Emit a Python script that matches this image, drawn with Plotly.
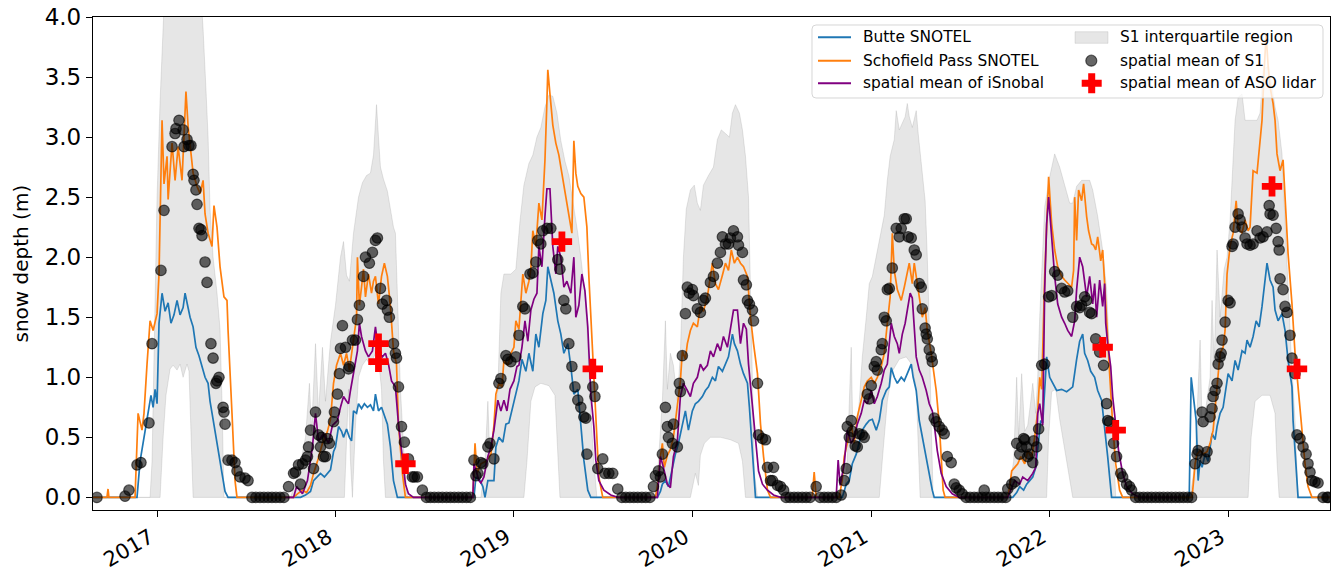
import numpy as np
import pandas as pd
import plotly.graph_objects as go

# ---------------------------------------------------------------------------
# Snow depth time series, (decimal year, depth in m)
# ---------------------------------------------------------------------------
butte_snotel = [
    (2016.642, 0.00), (2016.888, 0.00), (2016.905, 0.30), (2016.927, 0.50), (2016.944, 0.62),
    (2016.966, 0.85), (2016.978, 0.75), (2016.989, 0.90), (2017.000, 0.78), (2017.011, 1.45),
    (2017.028, 1.70), (2017.045, 1.55), (2017.062, 1.62), (2017.078, 1.45), (2017.095, 1.52),
    (2017.112, 1.64), (2017.129, 1.52), (2017.146, 1.58), (2017.157, 1.70), (2017.174, 1.58),
    (2017.185, 1.50), (2017.202, 1.42), (2017.218, 1.25), (2017.235, 1.18), (2017.252, 1.08),
    (2017.269, 1.00), (2017.286, 0.95), (2017.297, 0.80), (2017.314, 0.65), (2017.330, 0.50),
    (2017.347, 0.33), (2017.364, 0.18), (2017.381, 0.05), (2017.398, 0.00),
    (2017.804, 0.00), (2017.832, 0.02), (2017.860, 0.05), (2017.877, 0.14), (2017.894, 0.17),
    (2017.916, 0.20), (2017.938, 0.17), (2017.955, 0.20), (2017.972, 0.23), (2017.989, 0.38),
    (2018.000, 0.42), (2018.017, 0.59), (2018.034, 0.55), (2018.045, 0.50), (2018.062, 0.57),
    (2018.078, 0.50), (2018.090, 0.47), (2018.101, 0.72), (2018.118, 0.70), (2018.129, 0.78),
    (2018.146, 0.74), (2018.162, 0.78), (2018.179, 0.75), (2018.196, 0.77), (2018.213, 0.72),
    (2018.224, 0.86), (2018.241, 0.72), (2018.258, 0.75), (2018.274, 0.68), (2018.291, 0.61),
    (2018.308, 0.42), (2018.325, 0.14), (2018.347, 0.00),
    (2018.776, 0.00), (2018.787, 0.17), (2018.810, 0.14), (2018.826, 0.09), (2018.838, 0.00),
    (2018.854, 0.14), (2018.888, 0.14), (2018.899, 0.42), (2018.916, 0.50), (2018.938, 0.46),
    (2018.955, 0.61), (2018.972, 0.62), (2018.994, 0.75), (2019.011, 0.85), (2019.028, 0.97),
    (2019.045, 1.15), (2019.067, 1.05), (2019.084, 1.20), (2019.106, 1.05), (2019.123, 1.36),
    (2019.140, 1.25), (2019.162, 1.53), (2019.179, 1.64), (2019.190, 1.92), (2019.207, 1.81),
    (2019.224, 1.70), (2019.246, 1.47), (2019.263, 1.36), (2019.280, 1.20), (2019.302, 1.28),
    (2019.319, 1.09), (2019.336, 0.86), (2019.358, 0.90), (2019.375, 0.59), (2019.392, 0.31),
    (2019.414, 0.06), (2019.431, 0.00),
    (2019.804, 0.00), (2019.821, 0.05), (2019.832, 0.11), (2019.849, 0.14), (2019.866, 0.09),
    (2019.888, 0.25), (2019.905, 0.36), (2019.922, 0.45), (2019.944, 0.61), (2019.961, 0.72),
    (2019.978, 0.56), (2020.000, 0.72), (2020.017, 0.78), (2020.034, 0.80), (2020.056, 0.84),
    (2020.073, 0.89), (2020.090, 0.92), (2020.112, 1.00), (2020.129, 0.97), (2020.146, 1.09),
    (2020.168, 1.05), (2020.185, 1.11), (2020.202, 1.17), (2020.224, 1.36), (2020.235, 1.28),
    (2020.252, 1.22), (2020.269, 1.11), (2020.286, 1.03), (2020.308, 0.95), (2020.319, 0.75),
    (2020.336, 0.34), (2020.353, 0.00),
    (2020.838, 0.00), (2020.860, 0.11), (2020.877, 0.14), (2020.894, 0.28), (2020.916, 0.36),
    (2020.933, 0.45), (2020.950, 0.56), (2020.972, 0.61), (2020.989, 0.64), (2021.006, 0.65),
    (2021.028, 0.56), (2021.045, 0.64), (2021.062, 0.81), (2021.084, 0.89), (2021.101, 0.92),
    (2021.112, 1.08), (2021.129, 1.00), (2021.146, 0.95), (2021.168, 1.00), (2021.185, 0.97),
    (2021.202, 1.03), (2021.224, 1.11), (2021.235, 1.00), (2021.252, 0.89), (2021.269, 0.64),
    (2021.286, 0.50), (2021.308, 0.34), (2021.325, 0.17), (2021.342, 0.06), (2021.353, 0.00),
    (2021.793, 0.00), (2021.815, 0.04), (2021.832, 0.09), (2021.854, 0.06), (2021.871, 0.11),
    (2021.888, 0.14), (2021.905, 0.17), (2021.922, 0.25), (2021.938, 0.47), (2021.950, 0.64),
    (2021.961, 0.62), (2021.972, 0.95), (2021.983, 1.17), (2022.000, 1.00), (2022.017, 0.95),
    (2022.039, 0.89), (2022.067, 0.90), (2022.095, 0.88), (2022.112, 0.90), (2022.129, 0.92),
    (2022.151, 1.15), (2022.168, 1.30), (2022.185, 1.36), (2022.196, 1.20), (2022.213, 1.14),
    (2022.230, 1.05), (2022.252, 1.00), (2022.269, 0.89), (2022.291, 0.81), (2022.308, 0.60),
    (2022.325, 0.34), (2022.347, 0.00),
    (2022.782, 0.00), (2022.793, 1.00), (2022.804, 0.84), (2022.821, 0.64), (2022.832, 0.14),
    (2022.843, 0.31), (2022.854, 0.25), (2022.871, 0.36), (2022.888, 0.30), (2022.910, 0.53),
    (2022.927, 0.48), (2022.938, 0.59), (2022.955, 0.70), (2022.972, 0.75), (2022.989, 0.92),
    (2023.000, 1.03), (2023.022, 0.97), (2023.039, 1.14), (2023.056, 1.06), (2023.078, 1.22),
    (2023.095, 1.20), (2023.106, 1.31), (2023.123, 1.25), (2023.140, 1.34), (2023.157, 1.47),
    (2023.174, 1.42), (2023.190, 1.59), (2023.207, 1.81), (2023.218, 1.95), (2023.235, 1.81),
    (2023.252, 1.75), (2023.263, 1.56), (2023.280, 1.47), (2023.302, 1.53), (2023.319, 1.39),
    (2023.336, 1.14), (2023.358, 0.92), (2023.364, 0.64), (2023.375, 0.36), (2023.386, 0.09),
    (2023.392, 0.00), (2023.571, 0.00),
]

schofield_snotel = [
    (2016.642, 0.00), (2016.720, 0.00), (2016.726, 0.07), (2016.731, 0.00), (2016.877, 0.00),
    (2016.894, 0.70), (2016.916, 0.56), (2016.927, 0.70), (2016.944, 1.11), (2016.961, 1.47),
    (2016.978, 1.39), (2017.000, 1.53), (2017.011, 1.86), (2017.028, 3.14), (2017.039, 2.61),
    (2017.056, 2.84), (2017.062, 2.48), (2017.084, 2.95), (2017.101, 2.64), (2017.118, 2.92),
    (2017.140, 2.64), (2017.151, 3.03), (2017.162, 3.38), (2017.174, 3.09), (2017.190, 2.89),
    (2017.202, 2.70), (2017.224, 2.59), (2017.241, 2.53), (2017.258, 2.64), (2017.269, 2.36),
    (2017.286, 2.20), (2017.308, 2.09), (2017.319, 2.43), (2017.336, 2.25), (2017.353, 1.92),
    (2017.375, 1.67), (2017.392, 1.64), (2017.398, 1.39), (2017.420, 0.70), (2017.437, 0.14),
    (2017.448, 0.00),
    (2017.765, 0.00), (2017.787, 0.03), (2017.815, 0.06), (2017.838, 0.04), (2017.860, 0.10),
    (2017.877, 0.20), (2017.899, 0.30), (2017.927, 0.45), (2017.955, 0.55), (2017.972, 0.65),
    (2017.989, 0.95), (2018.006, 1.10), (2018.028, 1.20), (2018.045, 1.10), (2018.062, 1.20),
    (2018.078, 1.06), (2018.101, 1.30), (2018.118, 1.50), (2018.123, 2.00), (2018.134, 1.60),
    (2018.146, 1.75), (2018.157, 1.90), (2018.168, 1.67), (2018.185, 1.86), (2018.202, 1.70),
    (2018.213, 1.80), (2018.224, 1.84), (2018.241, 1.61), (2018.258, 1.84), (2018.274, 1.95),
    (2018.291, 1.84), (2018.308, 1.59), (2018.325, 1.22), (2018.342, 1.11), (2018.353, 0.61),
    (2018.375, 0.20), (2018.392, 0.00),
    (2018.770, 0.00), (2018.782, 0.45), (2018.793, 0.20), (2018.815, 0.28), (2018.843, 0.30),
    (2018.871, 0.36), (2018.888, 0.60), (2018.899, 0.86), (2018.916, 0.95), (2018.933, 0.92),
    (2018.944, 1.14), (2018.966, 1.10), (2018.983, 1.20), (2019.000, 1.25), (2019.011, 1.47),
    (2019.028, 1.40), (2019.039, 1.60), (2019.050, 1.86), (2019.067, 1.70), (2019.084, 1.80),
    (2019.095, 1.90), (2019.106, 2.22), (2019.123, 2.09), (2019.140, 2.45), (2019.157, 2.31),
    (2019.174, 2.81), (2019.185, 3.30), (2019.190, 3.56), (2019.202, 3.36), (2019.218, 3.10),
    (2019.235, 2.95), (2019.252, 2.85), (2019.263, 2.75), (2019.280, 2.60), (2019.297, 2.45),
    (2019.308, 2.36), (2019.325, 2.20), (2019.336, 2.97), (2019.347, 2.70), (2019.358, 2.59),
    (2019.375, 2.53), (2019.392, 2.50), (2019.409, 2.25), (2019.420, 1.84), (2019.442, 1.14),
    (2019.459, 0.59), (2019.476, 0.17), (2019.498, 0.00),
    (2019.793, 0.00), (2019.810, 0.14), (2019.821, 0.34), (2019.832, 0.45), (2019.843, 0.25),
    (2019.860, 0.35), (2019.877, 0.40), (2019.894, 0.50), (2019.916, 0.75), (2019.933, 0.97),
    (2019.944, 1.22), (2019.961, 1.15), (2019.972, 1.28), (2019.989, 1.39), (2020.006, 1.45),
    (2020.028, 1.42), (2020.045, 1.59), (2020.062, 1.55), (2020.084, 1.67), (2020.101, 1.84),
    (2020.112, 1.95), (2020.129, 1.78), (2020.146, 1.73), (2020.168, 1.85), (2020.185, 1.95),
    (2020.202, 1.89), (2020.218, 2.06), (2020.235, 1.95), (2020.252, 2.00), (2020.269, 1.95),
    (2020.286, 1.92), (2020.308, 1.84), (2020.325, 1.50), (2020.342, 1.28), (2020.364, 1.03),
    (2020.381, 0.61), (2020.398, 0.34), (2020.420, 0.06), (2020.437, 0.00),
    (2020.670, 0.00), (2020.681, 0.21), (2020.692, 0.00),
    (2020.821, 0.00), (2020.838, 0.15), (2020.849, 0.34), (2020.866, 0.45), (2020.888, 0.61),
    (2020.905, 0.45), (2020.922, 0.67), (2020.944, 0.81), (2020.961, 0.92), (2020.978, 0.97),
    (2021.000, 1.00), (2021.017, 0.95), (2021.034, 1.00), (2021.056, 1.09), (2021.073, 1.20),
    (2021.090, 1.45), (2021.106, 1.67), (2021.118, 2.20), (2021.129, 1.89), (2021.146, 1.73),
    (2021.168, 1.64), (2021.185, 1.75), (2021.196, 1.84), (2021.213, 1.95), (2021.230, 1.78),
    (2021.241, 1.95), (2021.252, 1.84), (2021.269, 1.67), (2021.286, 1.50), (2021.302, 1.58),
    (2021.314, 1.39), (2021.336, 1.20), (2021.353, 1.03), (2021.364, 0.89), (2021.381, 0.61),
    (2021.392, 0.34), (2021.403, 0.06), (2021.414, 0.00),
    (2021.765, 0.00), (2021.776, 0.09), (2021.787, 0.22), (2021.804, 0.25), (2021.821, 0.28),
    (2021.838, 0.34), (2021.860, 0.28), (2021.877, 0.39), (2021.899, 0.33), (2021.916, 0.50),
    (2021.933, 0.72), (2021.944, 1.00), (2021.955, 0.90), (2021.972, 1.84), (2021.983, 2.28),
    (2021.994, 2.67), (2022.011, 2.28), (2022.028, 2.06), (2022.045, 1.92), (2022.067, 1.84),
    (2022.084, 1.81), (2022.101, 1.78), (2022.123, 1.75), (2022.134, 1.89), (2022.140, 2.50),
    (2022.151, 2.14), (2022.162, 2.56), (2022.179, 2.47), (2022.190, 2.61), (2022.207, 2.34),
    (2022.218, 2.22), (2022.235, 2.11), (2022.246, 2.10), (2022.258, 2.06), (2022.269, 2.17),
    (2022.286, 1.97), (2022.297, 2.06), (2022.308, 1.78), (2022.319, 1.45), (2022.336, 1.03),
    (2022.353, 0.61), (2022.370, 0.28), (2022.392, 0.06), (2022.409, 0.00),
    (2022.798, 0.00), (2022.804, 0.09), (2022.815, 0.28), (2022.826, 0.36), (2022.843, 0.39),
    (2022.860, 0.36), (2022.882, 0.38), (2022.899, 0.45), (2022.916, 0.56), (2022.938, 0.92),
    (2022.955, 1.20), (2022.972, 1.25), (2022.983, 1.39), (2022.994, 1.86), (2023.011, 2.09),
    (2023.028, 2.20), (2023.045, 2.47), (2023.056, 2.25), (2023.078, 2.20), (2023.095, 2.31),
    (2023.112, 2.22), (2023.123, 2.25), (2023.140, 2.72), (2023.162, 2.70), (2023.174, 2.92),
    (2023.190, 3.14), (2023.202, 3.56), (2023.213, 3.85), (2023.224, 3.60), (2023.235, 3.42),
    (2023.252, 3.28), (2023.263, 3.14), (2023.274, 2.86), (2023.291, 2.72), (2023.308, 2.81),
    (2023.319, 2.45), (2023.336, 2.03), (2023.358, 1.61), (2023.375, 1.20), (2023.392, 0.92),
    (2023.414, 0.59), (2023.431, 0.28), (2023.448, 0.09), (2023.470, 0.00), (2023.571, 0.00),
]

isnobal_mean = [
    (2017.720, 0.00), (2017.765, 0.00), (2017.782, 0.09), (2017.815, 0.03), (2017.843, 0.14),
    (2017.860, 0.30), (2017.871, 0.42), (2017.888, 0.70), (2017.905, 0.47), (2017.933, 0.53),
    (2017.961, 0.45), (2017.983, 0.60), (2018.011, 0.64), (2018.028, 0.75), (2018.045, 0.84),
    (2018.062, 0.80), (2018.073, 0.78), (2018.084, 0.89), (2018.101, 1.03), (2018.123, 1.22),
    (2018.134, 1.45), (2018.146, 1.34), (2018.168, 1.22), (2018.185, 1.17), (2018.207, 1.22),
    (2018.224, 1.42), (2018.241, 1.22), (2018.263, 1.17), (2018.280, 1.20), (2018.297, 1.11),
    (2018.314, 0.97), (2018.336, 0.92), (2018.353, 0.61), (2018.375, 0.34), (2018.392, 0.11),
    (2018.409, 0.03), (2018.437, 0.00),
    (2018.770, 0.00), (2018.776, 0.28), (2018.804, 0.14), (2018.815, 0.12), (2018.832, 0.17),
    (2018.854, 0.34), (2018.871, 0.42), (2018.888, 0.56), (2018.910, 0.81), (2018.927, 0.72),
    (2018.944, 0.81), (2018.961, 0.72), (2018.978, 0.90), (2019.000, 0.97), (2019.017, 1.09),
    (2019.028, 1.10), (2019.045, 1.25), (2019.062, 1.47), (2019.078, 1.30), (2019.095, 1.56),
    (2019.112, 1.65), (2019.129, 1.70), (2019.140, 2.09), (2019.157, 1.92), (2019.174, 2.34),
    (2019.185, 2.57), (2019.202, 2.57), (2019.218, 2.09), (2019.235, 1.86), (2019.246, 2.09),
    (2019.263, 2.00), (2019.280, 1.75), (2019.297, 1.80), (2019.319, 1.70), (2019.336, 2.00),
    (2019.347, 1.50), (2019.364, 1.60), (2019.381, 1.86), (2019.398, 1.72), (2019.414, 1.42),
    (2019.431, 0.86), (2019.448, 0.59), (2019.459, 0.31), (2019.476, 0.14), (2019.504, 0.06),
    (2019.543, 0.02), (2019.582, 0.00),
    (2019.804, 0.00), (2019.821, 0.34), (2019.838, 0.25), (2019.860, 0.11), (2019.877, 0.08),
    (2019.894, 0.34), (2019.916, 0.47), (2019.933, 0.84), (2019.950, 0.95), (2019.972, 0.89),
    (2019.989, 0.84), (2020.006, 0.95), (2020.028, 1.00), (2020.045, 1.11), (2020.062, 1.06),
    (2020.084, 1.10), (2020.101, 1.22), (2020.118, 1.17), (2020.140, 1.28), (2020.157, 1.22),
    (2020.174, 1.34), (2020.196, 1.25), (2020.213, 1.39), (2020.230, 1.56), (2020.252, 1.56),
    (2020.269, 1.28), (2020.286, 1.45), (2020.302, 1.40), (2020.314, 1.11), (2020.336, 0.75),
    (2020.353, 0.45), (2020.370, 0.22), (2020.392, 0.11), (2020.420, 0.06), (2020.454, 0.02),
    (2020.493, 0.00),
    (2020.804, 0.00), (2020.815, 0.31), (2020.826, 0.10), (2020.849, 0.28), (2020.866, 0.56),
    (2020.888, 0.45), (2020.905, 0.50), (2020.922, 0.61), (2020.944, 0.70), (2020.961, 0.81),
    (2020.978, 0.78), (2021.000, 0.89), (2021.017, 0.78), (2021.034, 0.84), (2021.056, 0.95),
    (2021.073, 1.06), (2021.090, 1.11), (2021.112, 1.45), (2021.129, 1.34), (2021.146, 1.28),
    (2021.157, 1.20), (2021.174, 1.36), (2021.190, 1.45), (2021.202, 1.56), (2021.218, 1.70),
    (2021.230, 1.66), (2021.241, 1.45), (2021.252, 1.17), (2021.269, 1.06), (2021.286, 1.00),
    (2021.308, 0.89), (2021.325, 0.78), (2021.342, 0.72), (2021.353, 0.61), (2021.370, 0.39),
    (2021.392, 0.20), (2021.420, 0.09), (2021.454, 0.03), (2021.493, 0.00),
    (2021.765, 0.00), (2021.787, 0.08), (2021.804, 0.14), (2021.832, 0.11), (2021.849, 0.17),
    (2021.877, 0.14), (2021.905, 0.20), (2021.922, 0.25), (2021.933, 0.70), (2021.944, 0.78),
    (2021.961, 0.60), (2021.972, 1.73), (2021.983, 2.28), (2021.994, 2.50), (2022.011, 2.14),
    (2022.028, 1.84), (2022.045, 1.61), (2022.067, 1.50), (2022.084, 1.45), (2022.101, 1.39),
    (2022.123, 1.34), (2022.140, 1.47), (2022.151, 1.73), (2022.168, 2.00), (2022.185, 1.92),
    (2022.196, 1.81), (2022.207, 1.67), (2022.224, 1.84), (2022.241, 1.61), (2022.252, 1.78),
    (2022.263, 1.50), (2022.280, 1.81), (2022.297, 1.59), (2022.308, 1.78), (2022.314, 1.45),
    (2022.325, 1.28), (2022.342, 1.09), (2022.353, 0.84), (2022.370, 0.61), (2022.386, 0.39),
    (2022.409, 0.20), (2022.431, 0.09), (2022.465, 0.03), (2022.504, 0.00), (2022.728, 0.00),
]

s1_mean = [
    (2016.664, 0.00), (2016.821, 0.01), (2016.843, 0.06), (2016.888, 0.27), (2016.910, 0.29),
    (2016.955, 0.62), (2016.972, 1.28), (2017.022, 1.89), (2017.039, 2.39), (2017.084, 2.92),
    (2017.101, 3.03), (2017.106, 3.07), (2017.123, 3.14), (2017.146, 3.06), (2017.151, 2.92),
    (2017.168, 2.98), (2017.179, 2.93), (2017.190, 2.93), (2017.202, 2.69), (2017.207, 2.64),
    (2017.218, 2.56), (2017.224, 2.44), (2017.235, 2.24), (2017.246, 2.23), (2017.252, 2.18),
    (2017.269, 1.96), (2017.280, 1.79), (2017.302, 1.28), (2017.314, 1.16), (2017.330, 0.95),
    (2017.336, 0.97), (2017.347, 1.00), (2017.370, 0.75), (2017.375, 0.71), (2017.381, 0.61),
    (2017.398, 0.31), (2017.420, 0.31), (2017.437, 0.29), (2017.448, 0.22), (2017.465, 0.17),
    (2017.493, 0.16), (2017.510, 0.14), (2017.532, 0.00), (2017.554, 0.00), (2017.577, 0.00),
    (2017.599, 0.00), (2017.622, 0.00), (2017.644, 0.00), (2017.666, 0.00), (2017.689, 0.00),
    (2017.711, 0.00),
    (2017.737, 0.09), (2017.765, 0.20), (2017.776, 0.21), (2017.793, 0.27), (2017.804, 0.11),
    (2017.815, 0.28), (2017.832, 0.31), (2017.843, 0.34), (2017.849, 0.42), (2017.860, 0.56),
    (2017.877, 0.24), (2017.888, 0.71), (2017.905, 0.52), (2017.916, 0.42), (2017.922, 0.50),
    (2017.933, 0.34), (2017.944, 0.34), (2017.955, 0.49), (2017.966, 0.45), (2017.989, 0.63),
    (2017.994, 0.71), (2018.011, 0.86), (2018.022, 1.03), (2018.028, 1.24), (2018.039, 1.43),
    (2018.056, 1.25), (2018.073, 1.07), (2018.078, 1.09), (2018.095, 1.31), (2018.112, 1.31),
    (2018.123, 1.48), (2018.134, 1.60), (2018.157, 1.84), (2018.168, 2.00), (2018.190, 1.95),
    (2018.207, 2.04), (2018.224, 2.14), (2018.235, 2.16), (2018.252, 1.74), (2018.263, 1.61),
    (2018.286, 1.64), (2018.291, 1.56), (2018.302, 1.50), (2018.325, 1.28), (2018.336, 1.20),
    (2018.342, 1.16), (2018.353, 0.92), (2018.370, 0.59), (2018.386, 0.46), (2018.409, 0.32),
    (2018.431, 0.17), (2018.442, 0.17), (2018.459, 0.17), (2018.487, 0.06), (2018.510, 0.00),
    (2018.532, 0.00), (2018.554, 0.00), (2018.577, 0.00), (2018.599, 0.00), (2018.622, 0.00),
    (2018.644, 0.00), (2018.666, 0.00), (2018.689, 0.00), (2018.711, 0.00), (2018.734, 0.00),
    (2018.756, 0.00),
    (2018.776, 0.31), (2018.787, 0.18), (2018.798, 0.20), (2018.815, 0.29), (2018.826, 0.28),
    (2018.854, 0.42), (2018.866, 0.45), (2018.888, 0.32), (2018.916, 0.95), (2018.927, 0.99),
    (2018.955, 1.18), (2018.966, 1.15), (2018.983, 1.13), (2019.011, 1.17), (2019.028, 1.35),
    (2019.050, 1.59), (2019.062, 1.57), (2019.090, 1.86), (2019.106, 1.87), (2019.123, 1.96),
    (2019.134, 2.14), (2019.151, 2.11), (2019.162, 2.22), (2019.185, 2.24), (2019.207, 2.24),
    (2019.246, 1.98), (2019.258, 1.90), (2019.280, 1.64), (2019.291, 1.57), (2019.308, 1.28),
    (2019.325, 1.09), (2019.342, 0.92), (2019.358, 0.81), (2019.375, 0.75), (2019.392, 0.67),
    (2019.403, 0.66), (2019.409, 0.36), (2019.442, 0.92), (2019.454, 0.84), (2019.470, 0.24),
    (2019.498, 0.32), (2019.510, 0.20), (2019.532, 0.20), (2019.554, 0.20), (2019.582, 0.07),
    (2019.605, 0.00), (2019.627, 0.00), (2019.650, 0.00), (2019.672, 0.00), (2019.694, 0.00),
    (2019.717, 0.00), (2019.739, 0.00), (2019.762, 0.00),
    (2019.782, 0.09), (2019.793, 0.18), (2019.810, 0.22), (2019.821, 0.17), (2019.832, 0.36),
    (2019.849, 0.75), (2019.860, 0.59), (2019.866, 0.50), (2019.888, 0.45), (2019.894, 0.61),
    (2019.916, 0.42), (2019.927, 0.95), (2019.933, 0.88), (2019.944, 1.18), (2019.961, 1.53),
    (2019.972, 1.75), (2019.983, 1.70), (2020.000, 1.73), (2020.006, 1.68), (2020.028, 1.57),
    (2020.045, 1.54), (2020.062, 1.64), (2020.073, 1.66), (2020.101, 1.79), (2020.118, 1.84),
    (2020.140, 1.95), (2020.157, 2.04), (2020.168, 2.17), (2020.185, 2.11), (2020.202, 2.11),
    (2020.213, 2.16), (2020.230, 2.22), (2020.252, 2.17), (2020.258, 2.10), (2020.280, 2.04),
    (2020.286, 1.81), (2020.302, 1.77), (2020.308, 1.64), (2020.319, 1.61), (2020.336, 1.56),
    (2020.342, 1.47), (2020.364, 0.95), (2020.370, 0.52), (2020.392, 0.49), (2020.409, 0.48),
    (2020.420, 0.25), (2020.437, 0.14), (2020.448, 0.14), (2020.454, 0.25), (2020.476, 0.10),
    (2020.493, 0.09), (2020.510, 0.06), (2020.524, 0.00), (2020.546, 0.00), (2020.569, 0.00),
    (2020.591, 0.00), (2020.614, 0.00), (2020.636, 0.00), (2020.658, 0.00), (2020.692, 0.09),
    (2020.714, 0.00), (2020.737, 0.00), (2020.759, 0.00), (2020.782, 0.00), (2020.804, 0.00),
    (2020.832, 0.02), (2020.849, 0.14), (2020.860, 0.24), (2020.866, 0.59), (2020.877, 0.50),
    (2020.888, 0.64), (2020.894, 0.55), (2020.910, 0.43), (2020.922, 0.42), (2020.933, 0.53),
    (2020.950, 0.52), (2020.961, 0.50), (2020.978, 0.86), (2020.989, 0.82), (2021.000, 0.93),
    (2021.017, 1.09), (2021.028, 1.13), (2021.034, 1.06), (2021.056, 1.23), (2021.062, 1.28),
    (2021.073, 1.50), (2021.084, 1.47), (2021.090, 1.73), (2021.101, 1.74), (2021.118, 1.91),
    (2021.140, 2.24), (2021.157, 2.17), (2021.168, 2.24), (2021.185, 2.32), (2021.196, 2.32),
    (2021.207, 2.17), (2021.224, 2.16), (2021.241, 2.06), (2021.252, 2.02), (2021.269, 1.78),
    (2021.280, 1.75), (2021.286, 1.57), (2021.302, 1.41), (2021.308, 1.36), (2021.314, 1.32),
    (2021.325, 1.23), (2021.336, 1.17), (2021.342, 1.13), (2021.353, 0.66), (2021.364, 0.63),
    (2021.381, 0.59), (2021.398, 0.56), (2021.409, 0.53), (2021.426, 0.34), (2021.448, 0.29),
    (2021.465, 0.11), (2021.476, 0.08), (2021.493, 0.06), (2021.510, 0.03), (2021.532, 0.00),
    (2021.554, 0.00), (2021.577, 0.00), (2021.599, 0.00), (2021.622, 0.00), (2021.633, 0.06),
    (2021.644, 0.00), (2021.666, 0.00), (2021.689, 0.00), (2021.711, 0.00), (2021.734, 0.00),
    (2021.754, 0.00),
    (2021.765, 0.07), (2021.787, 0.11), (2021.804, 0.13), (2021.815, 0.45), (2021.832, 0.36),
    (2021.843, 0.42), (2021.854, 0.49), (2021.860, 0.48), (2021.871, 0.42), (2021.877, 0.34),
    (2021.888, 0.36), (2021.905, 0.29), (2021.910, 0.47), (2021.927, 0.42), (2021.938, 0.57),
    (2021.955, 1.10), (2021.972, 1.11), (2021.994, 1.67), (2022.011, 1.68), (2022.028, 1.88),
    (2022.045, 1.85), (2022.067, 1.74), (2022.084, 1.71), (2022.101, 1.72), (2022.129, 1.50),
    (2022.151, 1.59), (2022.168, 1.58), (2022.179, 1.60), (2022.196, 1.67), (2022.207, 1.64),
    (2022.224, 1.54), (2022.235, 1.53), (2022.258, 1.32), (2022.280, 1.21), (2022.302, 1.10),
    (2022.319, 0.78), (2022.325, 0.64), (2022.336, 0.63), (2022.358, 0.45), (2022.375, 0.34),
    (2022.398, 0.20), (2022.409, 0.17), (2022.431, 0.11), (2022.448, 0.09), (2022.459, 0.06),
    (2022.482, 0.00), (2022.504, 0.00), (2022.526, 0.00), (2022.549, 0.00), (2022.571, 0.00),
    (2022.594, 0.00), (2022.616, 0.00), (2022.638, 0.00), (2022.661, 0.00), (2022.683, 0.00),
    (2022.706, 0.00), (2022.728, 0.00), (2022.750, 0.00), (2022.773, 0.00), (2022.795, 0.00),
    (2022.815, 0.28), (2022.826, 0.36), (2022.832, 0.39), (2022.854, 0.71), (2022.860, 0.63),
    (2022.871, 0.32), (2022.882, 0.38), (2022.899, 0.67), (2022.910, 0.74), (2022.916, 0.84),
    (2022.927, 0.89), (2022.938, 0.95), (2022.944, 1.11), (2022.955, 1.17), (2022.961, 1.20),
    (2022.966, 1.31), (2022.983, 1.46), (2023.000, 1.64), (2023.011, 1.62), (2023.022, 2.09),
    (2023.028, 2.11), (2023.039, 2.25), (2023.056, 2.36), (2023.067, 2.31), (2023.078, 2.25),
    (2023.095, 2.16), (2023.106, 2.11), (2023.123, 2.10), (2023.140, 2.11), (2023.162, 2.22),
    (2023.179, 2.16), (2023.196, 2.17), (2023.218, 2.21), (2023.230, 2.43), (2023.235, 2.36),
    (2023.252, 2.35), (2023.269, 2.24), (2023.280, 2.13), (2023.286, 2.06), (2023.291, 1.82),
    (2023.308, 1.73), (2023.319, 1.59), (2023.330, 1.54), (2023.347, 1.35), (2023.358, 1.16),
    (2023.375, 1.03), (2023.386, 0.52), (2023.403, 0.49), (2023.420, 0.42), (2023.437, 0.36),
    (2023.448, 0.28), (2023.459, 0.21), (2023.470, 0.14), (2023.487, 0.13), (2023.504, 0.12),
    (2023.532, 0.00), (2023.554, 0.00), (2023.560, 0.00),
]

s1_upper_quartile = [
    (2016.642, 0.00), (2016.961, 0.00), (2016.972, 0.30), (2016.989, 1.60), (2017.000, 2.50),
    (2017.017, 3.30), (2017.034, 3.90), (2017.045, 4.30), (2017.241, 4.30), (2017.258, 3.90),
    (2017.274, 3.40), (2017.286, 3.00), (2017.297, 2.40), (2017.314, 2.00), (2017.336, 1.70),
    (2017.353, 1.40), (2017.364, 0.80), (2017.375, 0.00),
    (2017.748, 0.00), (2017.793, 0.20), (2017.832, 0.50), (2017.854, 0.95), (2017.866, 0.55),
    (2017.888, 1.28), (2017.905, 0.70), (2017.927, 1.25), (2017.944, 0.80), (2017.972, 1.30),
    (2018.000, 1.60), (2018.028, 2.00), (2018.045, 2.13), (2018.062, 1.85), (2018.078, 1.80),
    (2018.101, 2.20), (2018.129, 2.50), (2018.151, 2.62), (2018.174, 2.68), (2018.196, 2.70),
    (2018.213, 2.85), (2018.224, 3.10), (2018.230, 3.27), (2018.241, 3.00), (2018.252, 2.75),
    (2018.269, 2.65), (2018.291, 2.55), (2018.308, 2.40), (2018.325, 2.25), (2018.336, 2.20),
    (2018.347, 1.60), (2018.364, 0.90), (2018.386, 0.30), (2018.403, 0.00),
    (2018.815, 0.00), (2018.838, 0.30), (2018.854, 0.80), (2018.866, 0.30), (2018.882, 0.50),
    (2018.910, 0.90), (2018.927, 1.70), (2018.944, 1.86), (2018.983, 1.86), (2019.011, 1.90),
    (2019.034, 2.30), (2019.056, 2.60), (2019.084, 2.78), (2019.106, 2.85), (2019.129, 3.00),
    (2019.151, 3.08), (2019.174, 3.25), (2019.196, 3.35), (2019.218, 3.34), (2019.241, 3.20),
    (2019.263, 2.97), (2019.286, 2.80), (2019.308, 2.68), (2019.336, 2.42), (2019.358, 2.20),
    (2019.375, 2.00), (2019.398, 1.70), (2019.414, 1.30), (2019.431, 0.70), (2019.448, 0.30),
    (2019.465, 0.00),
    (2019.793, 0.00), (2019.810, 0.30), (2019.832, 0.80), (2019.849, 1.47), (2019.860, 0.90),
    (2019.877, 1.20), (2019.894, 1.10), (2019.916, 0.80), (2019.933, 1.20), (2019.950, 2.00),
    (2019.966, 2.40), (2019.989, 2.56), (2020.011, 2.60), (2020.028, 2.45), (2020.045, 2.39),
    (2020.062, 2.60), (2020.090, 2.68), (2020.118, 2.75), (2020.140, 2.98), (2020.162, 3.06),
    (2020.185, 3.03), (2020.207, 3.00), (2020.224, 3.20), (2020.241, 3.27), (2020.263, 3.20),
    (2020.280, 3.06), (2020.297, 2.84), (2020.314, 2.50), (2020.325, 1.72), (2020.336, 0.89),
    (2020.347, 0.20), (2020.364, 0.00),
    (2020.849, 0.00), (2020.866, 0.30), (2020.888, 1.25), (2020.899, 0.40), (2020.916, 0.50),
    (2020.933, 0.80), (2020.950, 1.17), (2020.972, 1.50), (2020.989, 1.78), (2021.006, 1.84),
    (2021.034, 2.06), (2021.056, 2.22), (2021.073, 2.35), (2021.090, 2.64), (2021.106, 2.84),
    (2021.129, 2.98), (2021.140, 3.22), (2021.157, 3.06), (2021.174, 3.11), (2021.190, 3.17),
    (2021.202, 3.28), (2021.213, 3.17), (2021.230, 3.08), (2021.252, 3.22), (2021.263, 3.03),
    (2021.280, 2.78), (2021.302, 2.47), (2021.314, 2.00), (2021.325, 1.45), (2021.336, 0.61),
    (2021.347, 0.00),
    (2021.748, 0.00), (2021.776, 0.10), (2021.798, 0.30), (2021.815, 1.00), (2021.826, 0.50),
    (2021.843, 1.03), (2021.860, 0.55), (2021.877, 0.60), (2021.894, 0.80), (2021.905, 0.95),
    (2021.922, 0.70), (2021.933, 1.00), (2021.944, 1.50), (2021.955, 1.86), (2021.972, 2.42),
    (2022.000, 2.67), (2022.028, 2.86), (2022.056, 2.75), (2022.084, 2.59), (2022.112, 2.45),
    (2022.129, 2.45), (2022.151, 2.59), (2022.179, 2.64), (2022.224, 2.64), (2022.241, 2.56),
    (2022.269, 2.34), (2022.297, 2.06), (2022.319, 1.73), (2022.336, 1.17), (2022.353, 0.60),
    (2022.370, 0.00),
    (2022.787, 0.00), (2022.815, 0.30), (2022.843, 1.31), (2022.854, 0.60), (2022.871, 0.70),
    (2022.899, 1.00), (2022.910, 1.64), (2022.922, 1.10), (2022.938, 2.06), (2022.955, 1.50),
    (2022.978, 1.90), (2022.994, 2.00), (2023.011, 2.31), (2023.028, 2.90), (2023.039, 3.14),
    (2023.056, 3.33), (2023.078, 3.36), (2023.095, 3.14), (2023.134, 3.14), (2023.162, 3.14),
    (2023.179, 3.20), (2023.196, 3.56), (2023.224, 3.59), (2023.241, 3.47), (2023.263, 3.25),
    (2023.280, 3.14), (2023.302, 2.86), (2023.319, 2.31), (2023.336, 1.75), (2023.353, 1.20),
    (2023.375, 0.64), (2023.392, 0.00), (2023.571, 0.00),
]

s1_lower_quartile = [
    (2016.642, 0.00), (2017.017, 0.00), (2017.034, 0.50), (2017.050, 0.85), (2017.073, 1.07),
    (2017.090, 1.10), (2017.112, 1.06), (2017.129, 1.11), (2017.146, 1.00), (2017.168, 1.11),
    (2017.179, 1.05), (2017.190, 0.50), (2017.202, 0.00),
    (2018.050, 0.00), (2018.062, 0.50), (2018.073, 0.90), (2018.084, 0.30), (2018.095, 0.00),
    (2018.112, 0.60), (2018.129, 1.00), (2018.151, 1.10), (2018.174, 1.15), (2018.196, 1.10),
    (2018.224, 1.20), (2018.241, 1.15), (2018.258, 0.90), (2018.269, 0.30), (2018.280, 0.00),
    (2019.056, 0.00), (2019.073, 0.30), (2019.095, 0.80), (2019.118, 0.92), (2019.151, 0.95),
    (2019.196, 0.93), (2019.230, 0.85), (2019.246, 0.40), (2019.258, 0.00),
    (2019.989, 0.00), (2020.017, 0.20), (2020.034, 0.10), (2020.045, 0.35), (2020.067, 0.45),
    (2020.101, 0.50), (2020.157, 0.50), (2020.213, 0.48), (2020.258, 0.45), (2020.280, 0.30),
    (2020.297, 0.00),
    (2021.045, 0.00), (2021.067, 0.40), (2021.090, 0.80), (2021.118, 1.05), (2021.157, 1.15),
    (2021.196, 1.17), (2021.230, 1.10), (2021.252, 0.90), (2021.263, 0.40), (2021.274, 0.00),
    (2021.983, 0.00), (2021.994, 0.50), (2022.011, 0.88), (2022.034, 0.90), (2022.056, 0.65),
    (2022.078, 0.45), (2022.101, 0.25), (2022.129, 0.00),
    (2023.112, 0.00), (2023.129, 0.50), (2023.151, 0.80), (2023.190, 0.85), (2023.235, 0.85),
    (2023.263, 0.70), (2023.274, 0.30), (2023.286, 0.00), (2023.571, 0.00),
]

aso_lidar_mean = [
    (2018.241, 1.28), (2018.241, 1.13), (2018.392, 0.28),
    (2019.269, 2.13), (2019.442, 1.07),
    (2022.297, 1.25), (2022.370, 0.56),
    (2023.246, 2.59), (2023.386, 1.07),
]

year_ticks = [2017, 2018, 2019, 2020, 2021, 2022, 2023]
depth_ticks = [0.0, 0.5, 1.0, 1.5, 2.0, 2.5, 3.0, 3.5, 4.0]
time_window = (2016.642, 2023.571)
depth_window = (-0.105, 4.0)

legend_labels = [
    "Butte SNOTEL", "Schofield Pass SNOTEL", "spatial mean of iSnobal",
    "S1 interquartile region", "spatial mean of S1", "spatial mean of ASO lidar",
]


# ---------------------------------------------------------------------------
# helpers
# ---------------------------------------------------------------------------
def to_timestamp(t):
    """Decimal year -> pandas Timestamp."""
    y = int(np.floor(t))
    start = pd.Timestamp(year=y, month=1, day=1)
    span = pd.Timestamp(year=y + 1, month=1, day=1) - start
    return start + span * (t - y)


def split(series):
    times = [to_timestamp(t) for t, _ in series]
    values = [v for _, v in series]
    return times, values


FONT = "DejaVu Sans"
W, H = 1331, 571
ML, MR, MT, MB = 93, 1, 17, 61
PW, PH = W - ML - MR, H - MT - MB


def fx(px):
    return (px - ML) / PW


def fy(py):
    return (H - MB - py) / PH


BLUE = "#1f77b4"
ORANGE = "#ff7f0e"
PURPLE = "#800080"
BAND = "rgba(128,128,128,0.2)"
DOT = "rgba(0,0,0,0.6)"

fig = go.Figure()

# interquartile band (lower edge, then upper edge filled down to it)
t_lo, v_lo = split(s1_lower_quartile)
t_hi, v_hi = split(s1_upper_quartile)
fig.add_trace(go.Scatter(x=t_lo, y=v_lo, mode="lines",
                         line=dict(color=BAND, width=1), hoverinfo="skip"))
fig.add_trace(go.Scatter(x=t_hi, y=v_hi, mode="lines", fill="tonexty",
                         fillcolor=BAND, line=dict(color=BAND, width=1),
                         name=legend_labels[3]))

for series, color, label in [
    (butte_snotel, BLUE, legend_labels[0]),
    (schofield_snotel, ORANGE, legend_labels[1]),
    (isnobal_mean, PURPLE, legend_labels[2]),
]:
    tt, vv = split(series)
    fig.add_trace(go.Scatter(x=tt, y=vv, mode="lines", name=label,
                             line=dict(color=color, width=1.7)))

tt, vv = split(s1_mean)
fig.add_trace(go.Scatter(x=tt, y=vv, mode="markers", name=legend_labels[4],
                         marker=dict(size=10.5, color=DOT,
                                     line=dict(color=DOT, width=1.2))))

tt, vv = split(aso_lidar_mean)
fig.add_trace(go.Scatter(x=tt, y=vv, mode="markers", name=legend_labels[5],
                         marker=dict(symbol="cross", size=17, color="red",
                                     line=dict(width=0))))

axis_common = dict(
    showline=True, linecolor="black", linewidth=1.3, mirror=True,
    ticks="outside", ticklen=6, tickwidth=1.3, tickcolor="black",
    showgrid=False, zeroline=False, automargin=False,
)

fig.update_xaxes(
    type="date",
    range=[to_timestamp(time_window[0]), to_timestamp(time_window[1])],
    tickvals=[pd.Timestamp(year=y, month=1, day=1) for y in year_ticks],
    ticktext=[str(y) for y in year_ticks],
    tickangle=-30,
    ticklabelshift=-7,
    tickfont=dict(family=FONT, size=21, color="black"),
    **axis_common,
)
fig.update_yaxes(
    range=list(depth_window),
    tickvals=depth_ticks,
    ticktext=[f"{v:.1f}" for v in depth_ticks],
    tickfont=dict(family=FONT, size=23, color="black"),
    **axis_common,
)

# ---------------------------------------------------------------------------
# legend box drawn as shapes + annotations (two columns)
# ---------------------------------------------------------------------------
shapes = []
annotations = []

bx0, bx1, by0, by1, r = 812, 1323, 25, 98, 4
box_path = (
    f"M {fx(bx0 + r)},{fy(by0)} L {fx(bx1 - r)},{fy(by0)} "
    f"Q {fx(bx1)},{fy(by0)} {fx(bx1)},{fy(by0 + r)} "
    f"L {fx(bx1)},{fy(by1 - r)} Q {fx(bx1)},{fy(by1)} {fx(bx1 - r)},{fy(by1)} "
    f"L {fx(bx0 + r)},{fy(by1)} Q {fx(bx0)},{fy(by1)} {fx(bx0)},{fy(by1 - r)} "
    f"L {fx(bx0)},{fy(by0 + r)} Q {fx(bx0)},{fy(by0)} {fx(bx0 + r)},{fy(by0)} Z"
)
shapes.append(dict(type="path", xref="paper", yref="paper", path=box_path,
                   fillcolor="rgba(255,255,255,0.8)",
                   line=dict(color="rgba(204,204,204,0.8)", width=1), layer="above"))

rows = [37.3, 60.7, 83.3]
for row, color in zip(rows, [BLUE, ORANGE, PURPLE]):
    shapes.append(dict(type="line", xref="paper", yref="paper",
                       x0=fx(818), x1=fx(851), y0=fy(row), y1=fy(row),
                       line=dict(color=color, width=2), layer="above"))

# band patch
shapes.append(dict(type="rect", xref="paper", yref="paper",
                   x0=fx(1075), x1=fx(1108), y0=fy(43.3), y1=fy(31.7),
                   fillcolor=BAND, line=dict(color=BAND, width=1), layer="above"))
# S1 dot
cx, cy, cr = 1091.3, rows[1], 5.5
shapes.append(dict(type="circle", xref="paper", yref="paper",
                   x0=fx(cx - cr), x1=fx(cx + cr), y0=fy(cy + cr), y1=fy(cy - cr),
                   fillcolor=DOT, line=dict(color=DOT, width=1.2), layer="above"))
# ASO cross
cx, cy, a, b = 1091.7, rows[2], 10, 3.5
pts = [(a, b), (b, b), (b, a), (-b, a), (-b, b), (-a, b),
       (-a, -b), (-b, -b), (-b, -a), (b, -a), (b, -b), (a, -b)]
cross_path = "M " + " L ".join(f"{fx(cx + dx)},{fy(cy + dy)}" for dx, dy in pts) + " Z"
shapes.append(dict(type="path", xref="paper", yref="paper", path=cross_path,
                   fillcolor="red", line=dict(width=0), layer="above"))

for i, label in enumerate(legend_labels):
    col_x = 861 if i < 3 else 1118
    annotations.append(dict(x=fx(col_x), y=fy(rows[i % 3]), xref="paper", yref="paper",
                            text=label, showarrow=False, xanchor="left", yanchor="middle",
                            font=dict(family=FONT, size=15.4, color="black")))

# y-axis title
annotations.append(dict(x=fx(20), y=0.5, xref="paper", yref="paper",
                        text="snow depth (m)", showarrow=False, textangle=-90,
                        xanchor="center", yanchor="middle",
                        font=dict(family=FONT, size=20, color="black")))

fig.update_layout(
    width=W, height=H,
    margin=dict(l=ML, r=MR, t=MT, b=MB, pad=0, autoexpand=False),
    paper_bgcolor="white", plot_bgcolor="white",
    showlegend=False,
    font=dict(family=FONT, color="black"),
    shapes=shapes,
    annotations=annotations,
)

fig.write_html("out.html")
